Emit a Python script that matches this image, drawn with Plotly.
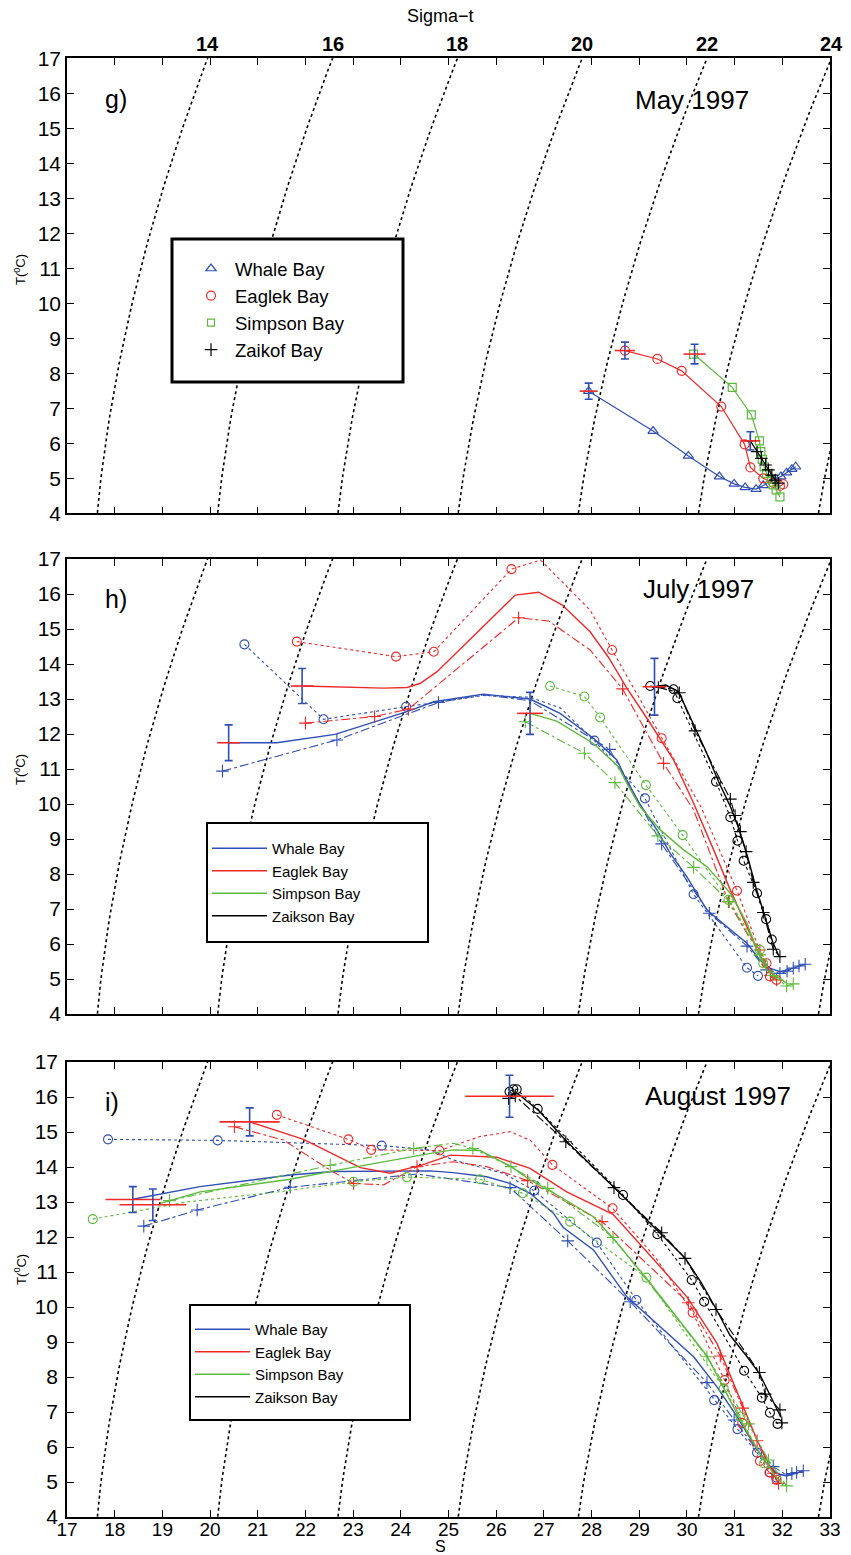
import numpy as np
import plotly.graph_objects as go

BLUE = '#2f4fb4'
RED = '#f02828'
GREEN = '#5cba3c'
BLACK = '#000000'
FONT = 'Liberation Sans, Arial, sans-serif'

# ---------------- axes / labels ----------------
S_RANGE = [17, 33]
T_RANGE = [4, 17]
sigma_levels = [14, 16, 18, 20, 22, 24, 26]
sigma_top_labels = [14, 16, 18, 20, 22, 24]
bay_names_g = ['Whale Bay', 'Eaglek Bay', 'Simpson Bay', 'Zaikof Bay']
bay_names_hi = ['Whale Bay', 'Eaglek Bay', 'Simpson Bay', 'Zaikson Bay']
panel_tags = ['g)', 'h)', 'i)']
panel_titles = ['May 1997', 'July 1997', 'August 1997']

# ---------------- panel g (May 1997) ----------------
g_whale = [(27.94, 7.49), (29.29, 6.35), (30.03, 5.64), (30.68, 5.05), (30.99, 4.84), (31.22, 4.74),
           (31.45, 4.69), (31.60, 4.80), (31.81, 4.93), (31.97, 5.05), (32.09, 5.16), (32.20, 5.26), (32.28, 5.33)]
g_eaglek = [(28.70, 8.65), (29.38, 8.41), (29.89, 8.07), (30.72, 7.05), (31.21, 5.97), (31.33, 5.31),
            (31.60, 5.00), (31.81, 4.87), (31.95, 4.78), (32.02, 4.83)]
g_simpson = [(30.14, 8.55), (30.95, 7.60), (31.35, 6.81), (31.52, 6.07), (31.55, 5.76), (31.58, 5.54),
             (31.62, 5.33), (31.67, 5.14), (31.77, 4.97), (31.81, 4.81), (31.87, 4.67), (31.95, 4.47)]
g_zaikof = [(31.33, 6.07), (31.47, 5.76), (31.56, 5.57), (31.65, 5.38), (31.71, 5.24), (31.78, 5.09),
            (31.85, 4.95), (31.92, 4.86)]
g_err_S = [27.94, 28.70, 30.16, 31.33]
g_err_T = [7.49, 8.65, 8.55, 6.07]
g_err_dS = [0.19, 0.21, 0.23, 0.21]
g_err_dT = [0.23, 0.24, 0.28, 0.26]

# ---------------- panel h (July 1997) ----------------
# solid = (S, T); dotted/dash-dot = (S, T, measured-point flag)
h_whale_solid = [(20.39, 11.75), (21.40, 11.75), (22.62, 11.99), (24.13, 12.64), (24.69, 12.92), (25.73, 13.14),
                 (26.71, 13.00), (27.34, 12.59), (28.04, 11.88), (28.53, 11.26), (28.70, 10.78), (28.98, 10.07),
                 (29.37, 9.26), (29.65, 8.59), (30.00, 7.92), (30.42, 6.97), (30.84, 6.49), (31.26, 6.02),
                 (31.53, 5.54), (31.74, 5.31), (31.95, 5.21), (32.23, 5.31), (32.44, 5.42)]
h_whale_dot = [(20.72, 14.56, 1), (22.38, 12.42, 1), (24.11, 12.78, 1), (25.73, 13.10, 0), (26.71, 13.05, 0),
               (27.34, 12.75, 0), (28.06, 11.81, 1), (29.12, 10.16, 1), (30.14, 7.42, 1), (31.26, 5.32, 1),
               (31.49, 5.09, 1)]
h_whale_dd = [(20.26, 10.94, 1), (22.66, 11.83, 1), (24.79, 12.90, 1), (25.73, 13.12, 0), (26.71, 12.95, 0),
              (27.60, 12.20, 0), (28.38, 11.56, 1), (29.47, 8.86, 1), (30.47, 6.88, 1), (31.26, 5.94, 1),
              (31.67, 5.26, 1), (31.95, 5.16, 1), (32.10, 5.22, 1), (32.23, 5.31, 1), (32.35, 5.37, 1),
              (32.48, 5.42, 1)]
h_eag_solid = [(21.93, 13.37), (23.64, 13.31), (24.13, 13.33), (24.41, 13.45), (24.76, 13.78), (26.40, 15.97),
               (26.89, 16.05), (27.38, 15.69), (27.97, 14.92), (28.35, 14.20), (28.74, 13.31), (29.16, 12.45),
               (29.72, 11.26), (30.14, 10.02), (30.56, 8.69), (30.91, 7.54), (31.26, 6.49), (31.47, 5.83),
               (31.67, 5.35), (31.88, 5.02)]
h_eag_dot = [(21.82, 14.64, 1), (23.90, 14.21, 1), (24.69, 14.35, 1), (26.32, 16.71, 1), (26.93, 16.97, 0),
             (27.97, 15.54, 0), (28.43, 14.40, 1), (29.47, 11.88, 1), (30.30, 9.90, 0), (31.05, 7.52, 1),
             (31.50, 5.90, 0), (31.67, 5.45, 1), (31.74, 5.07, 1), (31.88, 4.97, 1)]
h_eag_dd = [(22.00, 12.31, 1), (23.45, 12.50, 1), (24.16, 12.71, 1), (26.47, 15.32, 1), (27.10, 15.23, 0),
            (27.97, 14.40, 0), (28.65, 13.29, 1), (29.51, 11.16, 1), (30.14, 9.83, 0), (30.87, 7.21, 1),
            (31.30, 6.20, 0), (31.53, 5.83, 1), (31.75, 5.10, 1), (31.88, 4.97, 1)]
h_sim_solid = [(26.71, 12.59), (27.27, 12.37), (28.04, 11.73), (28.56, 11.07), (28.74, 10.59), (29.02, 9.92),
               (29.44, 9.26), (29.93, 8.69), (30.42, 8.21), (30.91, 7.45), (31.26, 6.59), (31.47, 5.83),
               (31.67, 5.26), (32.09, 4.88)]
h_sim_dot = [(27.13, 13.37, 1), (27.85, 13.07, 1), (28.18, 12.47, 1), (29.14, 10.54, 1), (29.91, 9.11, 1),
             (30.87, 7.26, 1), (31.53, 5.83, 1), (31.60, 5.45, 1)]
h_sim_dd = [(26.61, 12.35, 1), (27.85, 11.45, 1), (28.49, 10.61, 1), (29.39, 9.09, 1), (30.14, 8.19, 1),
            (30.89, 7.21, 1), (31.53, 5.69, 1), (31.80, 5.10, 1), (32.09, 4.80, 1), (32.23, 4.86, 1)]
h_zai_solid = [(29.32, 13.35), (29.55, 13.40), (29.82, 13.22), (30.00, 12.70), (30.40, 11.50), (30.66, 10.65),
               (30.92, 9.90), (31.10, 9.25), (31.28, 8.45), (31.45, 7.60), (31.65, 6.75), (31.80, 6.05),
               (31.93, 5.65)]
h_zai_dot = [(29.23, 13.37, 1), (29.72, 13.28, 1), (29.80, 13.02, 1), (30.61, 10.64, 1), (30.91, 9.62, 1),
             (31.06, 8.95, 1), (31.19, 8.38, 1), (31.47, 7.45, 1), (31.66, 6.71, 1), (31.78, 6.13, 1)]
h_zai_dd = [(29.40, 13.33, 1), (29.84, 13.18, 1), (30.17, 12.09, 1), (30.91, 10.14, 1), (31.01, 9.67, 1),
            (31.12, 9.21, 1), (31.24, 8.64, 1), (31.39, 7.76, 1), (31.60, 6.90, 1), (31.81, 5.85, 1),
            (31.95, 5.64, 1)]
h_err_S = [20.39, 21.93, 26.71, 29.32]
h_err_T = [11.75, 13.37, 12.59, 13.35]
h_err_dS = [0.24, 0.24, 0.27, 0.25]
h_err_dT = [0.51, 0.50, 0.60, 0.81]

# ---------------- panel i (August 1997) ----------------
i_whale_solid = [(18.38, 13.08), (19.79, 13.44), (21.68, 13.77), (22.59, 13.87), (24.62, 13.89), (25.10, 13.84),
                 (25.80, 13.72), (26.29, 13.53), (26.71, 13.25), (27.20, 12.68), (27.40, 12.28), (28.04, 11.63),
                 (28.74, 10.29), (29.44, 9.44), (30.14, 8.58), (30.63, 7.72), (31.05, 6.87), (31.39, 6.11),
                 (31.67, 5.53), (31.88, 5.25), (32.09, 5.17), (32.44, 5.32)]
i_whale_dot = [(17.86, 14.79, 1), (20.16, 14.76, 1), (23.60, 14.61, 1), (24.62, 14.49, 0), (25.10, 14.20, 0),
               (26.15, 13.82, 0), (26.80, 13.32, 1), (28.11, 11.84, 1), (28.94, 10.20, 1), (30.57, 7.34, 1),
               (31.06, 6.51, 1), (31.47, 5.84, 1), (31.74, 5.27, 1), (31.87, 5.13, 1)]
i_whale_dd = [(18.61, 12.31, 1), (19.73, 12.77, 1), (21.68, 13.42, 1), (24.34, 13.80, 0), (26.29, 13.41, 1),
              (27.50, 11.89, 1), (28.81, 10.15, 1), (30.42, 7.84, 1), (30.99, 6.77, 1), (31.50, 5.85, 0),
              (31.81, 5.44, 1), (32.09, 5.20, 1), (32.20, 5.24, 1), (32.30, 5.27, 1), (32.44, 5.32, 1)]
i_eag_solid = [(20.83, 15.29), (21.96, 14.79), (23.15, 13.98), (23.78, 13.82), (24.50, 14.08), (25.04, 14.34),
               (26.01, 14.28), (26.71, 13.96), (27.48, 13.29), (28.45, 12.65), (29.44, 11.15), (30.00, 10.29),
               (30.63, 8.96), (31.12, 7.34), (31.47, 6.20), (31.74, 5.44), (31.92, 4.96)]
i_eag_dot = [(21.40, 15.49, 1), (22.90, 14.79, 1), (23.38, 14.49, 1), (24.81, 14.47, 1), (25.66, 14.87, 0),
             (26.29, 15.01, 0), (26.71, 14.77, 0), (27.18, 14.06, 1), (28.44, 12.82, 1), (29.35, 11.40, 0),
             (30.12, 9.84, 1), (30.79, 7.91, 1), (31.16, 6.69, 1), (31.53, 5.60, 1), (31.73, 5.27, 1),
             (31.88, 5.06, 1)]
i_eag_dd = [(20.51, 15.15, 1), (21.54, 14.77, 0), (22.52, 13.91, 0), (23.01, 13.53, 1), (23.64, 13.49, 0),
            (24.34, 14.01, 1), (25.10, 14.15, 0), (25.80, 14.01, 0), (26.66, 13.61, 1), (28.22, 12.44, 1),
            (30.03, 10.12, 1), (30.70, 8.60, 1), (31.17, 7.11, 1), (31.47, 6.18, 1), (31.81, 5.25, 1),
            (31.92, 4.96, 1)]
i_sim_solid = [(18.96, 12.96), (19.79, 13.29), (21.68, 13.65), (22.59, 13.89), (24.62, 14.39), (25.10, 14.49),
               (25.66, 14.47), (26.29, 14.03), (26.71, 13.63), (27.34, 13.15), (28.04, 12.58), (28.46, 11.95),
               (29.15, 10.82), (29.80, 9.70), (30.42, 8.60), (30.80, 7.60), (31.12, 6.77), (31.53, 5.82),
               (31.81, 5.25), (32.02, 4.91)]
i_sim_dot = [(17.54, 12.51, 1), (19.50, 13.00, 0), (21.50, 13.30, 0), (23.01, 13.58, 1), (24.13, 13.71, 1),
             (25.66, 13.65, 1), (26.56, 13.25, 1), (27.55, 12.44, 1), (29.15, 10.84, 1), (30.77, 7.68, 1),
             (31.12, 6.87, 1), (31.62, 5.53, 1)]
i_sim_dd = [(19.15, 13.04, 1), (22.52, 14.05, 1), (24.27, 14.53, 1), (25.10, 14.68, 0), (25.51, 14.53, 1),
            (26.31, 14.01, 1), (27.08, 13.39, 1), (28.45, 11.99, 1), (30.42, 8.58, 1), (31.29, 6.66, 1),
            (31.71, 5.63, 1), (32.09, 4.89, 1)]
i_zai_solid = [(26.28, 16.05), (26.45, 16.10), (26.90, 15.60), (27.50, 14.70), (28.47, 13.42), (29.40, 12.15),
               (29.96, 11.40), (30.30, 10.70), (30.61, 9.95), (30.90, 9.20), (31.25, 8.60), (31.52, 8.10),
               (31.70, 7.60), (31.85, 7.20), (31.97, 6.85)]
i_zai_dot = [(26.28, 16.15, 1), (26.36, 16.22, 1), (26.43, 16.22, 1), (26.87, 15.66, 1), (28.66, 13.20, 1),
             (29.38, 12.08, 1), (30.10, 10.77, 1), (30.36, 10.15, 1), (31.20, 8.18, 1), (31.57, 7.41, 1),
             (31.74, 6.98, 1), (31.90, 6.66, 1)]
i_zai_dd = [(26.26, 15.96, 1), (26.40, 16.03, 1), (27.46, 14.72, 1), (28.47, 13.41, 1), (29.47, 12.12, 1),
            (29.96, 11.39, 1), (30.61, 9.93, 1), (31.52, 8.13, 1), (31.64, 7.51, 1), (31.95, 7.06, 1),
            (31.99, 6.69, 1)]
i_err_S = [18.38, 18.80, 20.83, 26.28]
i_err_T = [13.07, 12.92, 15.29, 16.02]
i_err_dS = [0.57, 0.70, 0.63, 0.93]
i_err_dT = [0.37, 0.45, 0.40, 0.60]


# ---------------- sigma-t (UNESCO 1980, p = 0) ----------------
def sigma_t(S, T):
    rw = (999.842594 + 6.793952e-2 * T - 9.095290e-3 * T**2 + 1.001685e-4 * T**3
          - 1.120083e-6 * T**4 + 6.536332e-9 * T**5)
    A = 8.24493e-1 - 4.0899e-3 * T + 7.6438e-5 * T**2 - 8.2467e-7 * T**3 + 5.3875e-9 * T**4
    B = -5.72466e-3 + 1.0227e-4 * T - 1.6546e-6 * T**2
    C = 4.8314e-4
    return rw + A * S + B * S**1.5 + C * S**2 - 1000.0


def salinity_for(sig, T):
    lo, hi = 0.0, 45.0
    for _ in range(60):
        mid = 0.5 * (lo + hi)
        if sigma_t(mid, T) < sig:
            lo = mid
        else:
            hi = mid
    return 0.5 * (lo + hi)


fig = go.Figure()
axes = [('x', 'y'), ('x2', 'y2'), ('x3', 'y3')]
T_grid = np.linspace(3.5, 17.5, 60)

# isopycnals
for xa, ya in axes:
    for sig in sigma_levels:
        fig.add_trace(go.Scatter(x=[salinity_for(sig, t) for t in T_grid], y=T_grid, mode='lines',
                                 line=dict(color=BLACK, width=1.6, dash='dot'), xaxis=xa, yaxis=ya,
                                 showlegend=False, hoverinfo='skip'))

SYM = dict(tri='triangle-up-open', circ='circle-open', sq='square-open', plus='cross-thin-open')


def add_marked_line(pts, color, symbol, xa, ya, size=9):
    fig.add_trace(go.Scatter(x=[p[0] for p in pts], y=[p[1] for p in pts], mode='lines+markers',
                             line=dict(color=color, width=1.2),
                             marker=dict(symbol=symbol, size=size, color=color,
                                         line=dict(color=color, width=1.2)),
                             xaxis=xa, yaxis=ya, showlegend=False))


def add_solid(pts, color, xa, ya):
    fig.add_trace(go.Scatter(x=[p[0] for p in pts], y=[p[1] for p in pts], mode='lines',
                             line=dict(color=color, width=1.4), xaxis=xa, yaxis=ya, showlegend=False))


def add_flagged(pts, color, dash, symbol, xa, ya, size=9):
    fig.add_trace(go.Scatter(x=[p[0] for p in pts], y=[p[1] for p in pts], mode='lines',
                             line=dict(color=color, width=1.1, dash=dash), xaxis=xa, yaxis=ya,
                             showlegend=False))
    mk = [p for p in pts if p[2]]
    fig.add_trace(go.Scatter(x=[p[0] for p in mk], y=[p[1] for p in mk], mode='markers',
                             marker=dict(symbol=symbol, size=size, color=color,
                                         line=dict(color=color, width=1.1)),
                             xaxis=xa, yaxis=ya, showlegend=False))


def add_err(S, T, dS, dT, xa, ya):
    fig.add_trace(go.Scatter(x=S, y=T, mode='markers', marker=dict(size=2, color='rgba(0,0,0,0)'),
                             error_x=dict(type='data', array=dS, color=RED, thickness=1.6, width=0),
                             error_y=dict(type='data', array=dT, color=BLUE, thickness=1.6, width=4),
                             xaxis=xa, yaxis=ya, showlegend=False))


# panel g
add_marked_line(g_whale, BLUE, SYM['tri'], 'x', 'y')
add_marked_line(g_eaglek, RED, SYM['circ'], 'x', 'y')
add_marked_line(g_simpson, GREEN, SYM['sq'], 'x', 'y', size=8)
add_marked_line(g_zaikof, BLACK, SYM['plus'], 'x', 'y')
add_err(g_err_S, g_err_T, g_err_dS, g_err_dT, 'x', 'y')

# panel h / i
for (solid, dot, dd, color) in [(h_whale_solid, h_whale_dot, h_whale_dd, BLUE),
                                (h_eag_solid, h_eag_dot, h_eag_dd, RED),
                                (h_sim_solid, h_sim_dot, h_sim_dd, GREEN),
                                (h_zai_solid, h_zai_dot, h_zai_dd, BLACK)]:
    add_flagged(dot, color, 'dot', SYM['circ'], 'x2', 'y2')
    add_flagged(dd, color, 'dashdot', SYM['plus'], 'x2', 'y2')
    add_solid(solid, color, 'x2', 'y2')
add_err(h_err_S, h_err_T, h_err_dS, h_err_dT, 'x2', 'y2')

for (solid, dot, dd, color) in [(i_whale_solid, i_whale_dot, i_whale_dd, BLUE),
                                (i_eag_solid, i_eag_dot, i_eag_dd, RED),
                                (i_sim_solid, i_sim_dot, i_sim_dd, GREEN),
                                (i_zai_solid, i_zai_dot, i_zai_dd, BLACK)]:
    add_flagged(dot, color, 'dot', SYM['circ'], 'x3', 'y3')
    add_flagged(dd, color, 'dashdot', SYM['plus'], 'x3', 'y3')
    add_solid(solid, color, 'x3', 'y3')
add_err(i_err_S, i_err_T, i_err_dS, i_err_dT, 'x3', 'y3')

# legend entries
for name, color, sym in zip(bay_names_g, [BLUE, RED, GREEN, BLACK],
                            [SYM['tri'], SYM['circ'], SYM['sq'], SYM['plus']]):
    fig.add_trace(go.Scatter(x=[None], y=[None], mode='markers', name=name, legend='legend',
                             marker=dict(symbol=sym, size=9 if sym != SYM['sq'] else 7, color=color,
                                         line=dict(color=color, width=1.2))))
for lg, xa, ya in [('legend2', 'x2', 'y2'), ('legend3', 'x3', 'y3')]:
    for name, color in zip(bay_names_hi, [BLUE, RED, GREEN, BLACK]):
        fig.add_trace(go.Scatter(x=[None], y=[None], mode='lines', name=name, legend=lg,
                                 line=dict(color=color, width=1.4), xaxis=xa, yaxis=ya))

# ---------------- layout ----------------
W, H = 851, 1555
ML, MR, MT, MB = 67, 21, 58, 38
PH = H - MT - MB
PW = W - ML - MR


def px_x(px):
    return (px - ML) / PW


def px_y(py):
    return (H - MB - py) / PH


xcommon = dict(range=S_RANGE, tick0=17, dtick=1, ticks='inside', ticklen=7, tickwidth=1.2,
               tickcolor=BLACK, showline=True, linecolor=BLACK, linewidth=1.6, mirror='ticks',
               showgrid=False, zeroline=False, automargin=False,
               tickfont=dict(family=FONT, size=19, color=BLACK))
ycommon = dict(range=T_RANGE, tick0=4, dtick=1, ticks='inside', ticklen=7, tickwidth=1.2,
               tickcolor=BLACK, showline=True, linecolor=BLACK, linewidth=1.6, mirror='ticks',
               showgrid=False, zeroline=False, automargin=False,
               tickfont=dict(family=FONT, size=21, color=BLACK))

dom_g = [px_y(513.3), px_y(58.3)]
dom_h = [px_y(1014), px_y(559)]
dom_i = [px_y(1517), px_y(1062)]

annotations = []
for tag, title, xa, ya in zip(panel_tags, panel_titles, ['x', 'x2', 'x3'], ['y', 'y2', 'y3']):
    annotations.append(dict(text=tag, x=17.75, y=15.85, xref=xa, yref=ya, xanchor='left', yanchor='middle',
                            showarrow=False, font=dict(family=FONT, size=25, color=BLACK)))
title_pos = {'May 1997': (28.87, 15.81), 'July 1997': (29.04, 16.14), 'August 1997': (29.07, 16.03)}
for title, xa, ya in zip(panel_titles, ['x', 'x2', 'x3'], ['y', 'y2', 'y3']):
    tx, ty = title_pos[title]
    annotations.append(dict(text=title, x=tx, y=ty, xref=xa, yref=ya, xanchor='left', yanchor='middle',
                            showarrow=False, font=dict(family=FONT, size=26, color=BLACK)))
for ya, yv in [('y', 10.95), ('y2', 10.97), ('y3', 11.06)]:
    annotations.append(dict(text='T(<sup>0</sup>C)', x=px_x(20), y=yv, xref='paper', yref=ya, textangle=-90,
                            xanchor='center', yanchor='middle', showarrow=False,
                            font=dict(family=FONT, size=13, color=BLACK)))
for sig in sigma_top_labels:
    annotations.append(dict(text='<b>%d</b>' % sig, x=(salinity_for(sig, 17.0) - S_RANGE[0]) / (S_RANGE[1] - S_RANGE[0]),
                            y=1.0, xref='paper', yref='paper',
                            xanchor='center', yanchor='bottom', yshift=1, showarrow=False,
                            font=dict(family=FONT, size=20, color=BLACK)))
annotations.append(dict(text='Sigma\u2212t', x=px_x(440), y=px_y(16), xref='paper', yref='paper', xanchor='center',
                        yanchor='middle', showarrow=False, font=dict(family=FONT, size=18, color=BLACK)))
annotations.append(dict(text='S', x=px_x(440), y=px_y(1547), xref='paper', yref='paper', xanchor='center',
                        yanchor='middle', showarrow=False, font=dict(family=FONT, size=16, color=BLACK)))

shapes = []
for (x0, y0, x1, y1, lw) in [(172, 239, 403, 382, 3), (207, 823, 428, 942, 2), (190, 1305, 410, 1420, 2)]:
    shapes.append(dict(type='rect', xref='paper', yref='paper', x0=px_x(x0), x1=px_x(x1),
                       y0=px_y(y1), y1=px_y(y0), line=dict(color=BLACK, width=lw),
                       fillcolor='white', layer='above'))

legend_common = dict(bgcolor='rgba(0,0,0,0)', borderwidth=0, xanchor='left', yanchor='top',
                     tracegroupgap=0)

fig.update_layout(
    width=W, height=H, margin=dict(l=ML, r=MR, t=MT, b=MB, autoexpand=False),
    paper_bgcolor='white', plot_bgcolor='white',
    font=dict(family=FONT, color=BLACK),
    xaxis=dict(xcommon, anchor='y', domain=[0, 1], showticklabels=False),
    yaxis=dict(ycommon, anchor='x', domain=dom_g),
    xaxis2=dict(xcommon, anchor='y2', domain=[0, 1], showticklabels=False),
    yaxis2=dict(ycommon, anchor='x2', domain=dom_h),
    xaxis3=dict(xcommon, anchor='y3', domain=[0, 1]),
    yaxis3=dict(ycommon, anchor='x3', domain=dom_i),
    legend=dict(legend_common, x=px_x(187), y=px_y(250), itemwidth=38,
                font=dict(family=FONT, size=18.5, color=BLACK)),
    legend2=dict(legend_common, x=px_x(207), y=px_y(832), itemwidth=55,
                 font=dict(family=FONT, size=15, color=BLACK)),
    legend3=dict(legend_common, x=px_x(190), y=px_y(1313), itemwidth=55,
                 font=dict(family=FONT, size=15, color=BLACK)),
    annotations=annotations, shapes=shapes, showlegend=True,
)

try:
    fig.update_layout(xaxis3=dict(ticklabelstandoff=-6), yaxis3=dict(ticklabelstandoff=3))
except Exception:
    pass

fig.write_html('out.html')
